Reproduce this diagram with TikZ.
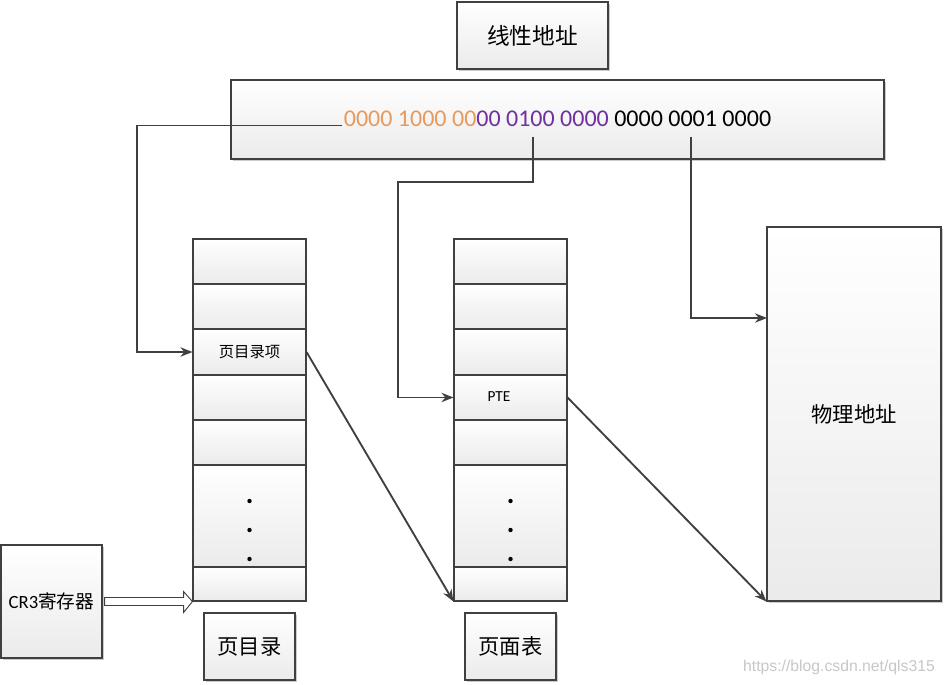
\documentclass[tikz,border=0pt]{standalone}
\usepackage{fontspec}
\setmainfont{Carlito}
\newfontfamily\cjk{Noto Sans CJK SC}
\newfontfamily\wmfont{Liberation Sans}
\usetikzlibrary{arrows.meta,shadows,calc}
\definecolor{addrorange}{HTML}{E89A5C}
\definecolor{addrpurple}{HTML}{7030A0}
\definecolor{edgecol}{HTML}{404040}
\begin{document}
\begin{tikzpicture}[x=0.75pt,y=-0.75pt,
  box/.style={draw=edgecol, line width=0.8pt, top color=white, bottom color=black!8, inner sep=0pt, anchor=center},
  sz/.style 2 args={minimum width=#1*0.75pt, minimum height=#2*0.75pt},
  cell/.style={box, minimum width=113*0.75pt, minimum height=#1*0.75pt},
  shadowed/.style={drop shadow={shadow xshift=1.5pt,shadow yshift=-1.5pt,opacity=0.2,fill=black}},
  conn/.style={draw=edgecol, line width=1.4pt, -{Stealth[length=9pt,width=7pt]}},
  big/.style={font=\cjk\fontsize{16}{19}\selectfont},
  dotm/.style={fill=black, circle, inner sep=0pt, minimum size=3.3pt}]
\fill[white] (0,0) rectangle (944,684);
\useasboundingbox (0,0) rectangle (944,684);

% title and address
\node[box,shadowed,sz={151}{67},font=\cjk\fontsize{17}{20}\selectfont] (title) at (532.5,35.5) {线性地址};
\node[box,shadowed,sz={653}{79}] (addrbox) at (557.5,119.5) {};
\node[font=\fontsize{18}{21}\selectfont, inner sep=0pt] (addr) at (557.5,119) {{\color{addrorange}0000 1000 00}{\color{addrpurple}00 0100 0000} 0000 0001 0000};

% page directory
\node[cell=45] (pd1) at (249.5,261.5) {};
\node[cell=45] (pd2) at (249.5,306.5) {};
\node[cell=46,font=\cjk\fontsize{11.5}{14}\selectfont] (pd3) at (249.5,352) {页目录项};
\node[cell=45] (pd4) at (249.5,397.5) {};
\node[cell=45] (pd5) at (249.5,442.5) {};
\node[cell=102] (pd6) at (249.5,516) {};
\node[cell=34] (pd7) at (249.5,584) {};
\node[dotm] (pdd1) at (249.5,501) {};
\node[dotm] (pdd2) at (249.5,530) {};
\node[dotm] (pdd3) at (249.5,559) {};

% page table
\node[cell=45] (pt1) at (510.5,261.5) {};
\node[cell=45] (pt2) at (510.5,306.5) {};
\node[cell=46] (pt3) at (510.5,352) {};
\node[cell=45] (pt4) at (510.5,397.5) {};
\node[font=\fontsize{11.5}{14}\selectfont] (ptelbl) at (499,397) {PTE};
\node[cell=45] (pt5) at (510.5,442.5) {};
\node[cell=102] (pt6) at (510.5,516) {};
\node[cell=34] (pt7) at (510.5,584) {};
\node[dotm] (ptd1) at (510.5,501) {};
\node[dotm] (ptd2) at (510.5,530) {};
\node[dotm] (ptd3) at (510.5,559) {};

% physical
\node[box,shadowed,sz={174}{374},big] (phys) at (854,414) {物理地址};

% CR3
\node[box,shadowed,sz={101}{113},font=\fontsize{14}{17}\selectfont] (cr3) at (51.5,601.5) {CR3{\cjk 寄存器}};

% labels
\node[box,shadowed,sz={91}{67},big] (pdlbl) at (249.5,646.5) {页目录};
\node[box,shadowed,sz={91}{67},big] (ptlbl) at (510.5,646.5) {页面表};

% connectors
\coordinate (s1) at (342,125.5);
\coordinate (k1) at (137,352);
\draw[conn] (s1) -| (k1) -- (pd3.west);
\coordinate (s2) at (533,137);
\coordinate (k2) at (398,182);
\draw[conn, line width=1.1pt] (s2) |- (k2) |- (pt4.west);
\coordinate (s3) at (691,137);
\coordinate (e3) at (767,318);
\draw[conn] (s3) |- (e3);
\draw[conn] (pd3.east) -- (pt7.south west);
\draw[conn] (pt4.east) -- (phys.south west);

% CR3 hollow arrow
\draw[draw=edgecol, fill=white, line width=0.7pt, line join=miter]
  ($(cr3.east)+(2,-4)$) -- ($(cr3.east)+(81,-4)$) -- ($(cr3.east)+(81,-10)$) -- (pd7.south west)
  -- ($(cr3.east)+(81,11)$) -- ($(cr3.east)+(81,4)$) -- ($(cr3.east)+(2,4)$) -- cycle;

% watermark
\node[font=\wmfont\fontsize{11.8}{14}\selectfont, text=black!22] (wm) at (839,667) {https://blog.csdn.net/qls315};
\end{tikzpicture}
\end{document}
